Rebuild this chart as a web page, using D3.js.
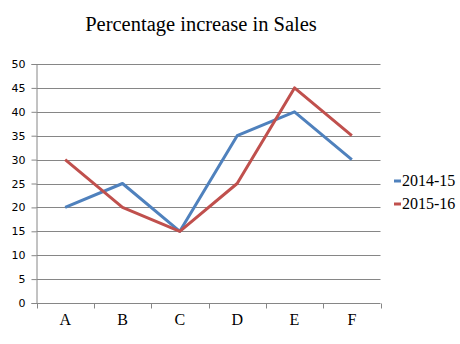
<!DOCTYPE html>
<html>
<head>
<meta charset="utf-8">
<script src="https://cdn.jsdelivr.net/npm/d3@7"></script>
<style>
  html, body { margin: 0; padding: 0; background: #fff; }
  svg { display: block; }
</style>
</head>
<body>
<svg id="chart" width="460" height="344"></svg>
<script>
// Sales growth by region, two fiscal years
const categories = ["A", "B", "C", "D", "E", "F"];
const seriesNames = ["2014-15", "2015-16"];
const sales2014 = [20, 25, 15, 35, 40, 30];
const sales2015 = [30, 20, 15, 25, 45, 35];
const yTicks = [0, 5, 10, 15, 20, 25, 30, 35, 40, 45, 50];
const colors = ["#4F81BD", "#C0504D"];

const SERIF = "Liberation Serif";
const SANS = "DejaVu Sans";

const series = [
  { name: seriesNames[0], values: sales2014, color: colors[0] },
  { name: seriesNames[1], values: sales2015, color: colors[1] }
];

const svg = d3.select("#chart");
const plot = { left: 36.5, right: 380.5, top: 64, bottom: 303 };

const x = d3.scaleBand().domain(categories).range([plot.left, plot.right]).padding(0);
const y = d3.scaleLinear().domain([0, 50]).range([plot.bottom, plot.top]);

// Title
svg.append("text")
  .attr("x", 201).attr("y", 31)
  .attr("text-anchor", "middle")
  .attr("font-family", SERIF)
  .attr("font-size", 20.5)
  .attr("fill", "#000")
  .text("Percentage increase in Sales");

// Horizontal gridlines
svg.append("g")
  .selectAll("line")
  .data(yTicks.filter(d => d > 0))
  .join("line")
  .attr("x1", plot.left).attr("x2", plot.right)
  .attr("y1", d => Math.round(y(d)) + 0.5).attr("y2", d => Math.round(y(d)) + 0.5)
  .attr("stroke", "#868686").attr("stroke-width", 1);

// Y axis
const yAxis = svg.append("g")
  .attr("transform", `translate(${plot.left},0)`)
  .call(d3.axisLeft(y).tickValues(yTicks).tickSize(5).tickPadding(6)
    .tickFormat(d3.format("d")));
yAxis.attr("font-family", SANS).attr("font-size", 11);
yAxis.select(".domain").attr("stroke", "#868686");
yAxis.selectAll(".tick line").attr("stroke", "#868686");
yAxis.selectAll(".tick text").attr("fill", "#000");

// X axis with ticks at band edges
const xAxis = svg.append("g")
  .attr("transform", `translate(0,${plot.bottom + 0.5})`);
xAxis.append("line")
  .attr("x1", plot.left).attr("x2", plot.right)
  .attr("stroke", "#868686");
const edges = categories.map(c => x(c)).concat([x(categories[categories.length - 1]) + x.bandwidth()]);
xAxis.selectAll("line.edge")
  .data(edges)
  .join("line")
  .attr("class", "edge")
  .attr("x1", d => Math.round(d) + 0.5).attr("x2", d => Math.round(d) + 0.5)
  .attr("y1", 0).attr("y2", 5)
  .attr("stroke", "#868686");
xAxis.selectAll("text")
  .data(categories)
  .join("text")
  .attr("x", d => x(d) + x.bandwidth() / 2)
  .attr("y", 21)
  .attr("text-anchor", "middle")
  .attr("font-family", SERIF)
  .attr("font-size", 16)
  .attr("fill", "#000")
  .text(d => d);

// Lines
const line = d3.line()
  .x((d, i) => x(categories[i]) + x.bandwidth() / 2)
  .y(d => y(d));

svg.append("g")
  .selectAll("path")
  .data(series)
  .join("path")
  .attr("d", d => line(d.values))
  .attr("fill", "none")
  .attr("stroke", d => d.color)
  .attr("stroke-width", 3)
  .attr("stroke-linejoin", "round");

// Legend
const legend = svg.append("g")
  .selectAll("g")
  .data(series)
  .join("g")
  .attr("transform", (d, i) => `translate(394,${181 + i * 23})`);
legend.append("line")
  .attr("x1", 0).attr("x2", 7)
  .attr("stroke", d => d.color).attr("stroke-width", 3);
legend.append("text")
  .attr("x", 8).attr("y", 5)
  .attr("font-family", SERIF)
  .attr("font-size", 16)
  .attr("fill", "#000")
  .text(d => d.name);
</script>
</body>
</html>
